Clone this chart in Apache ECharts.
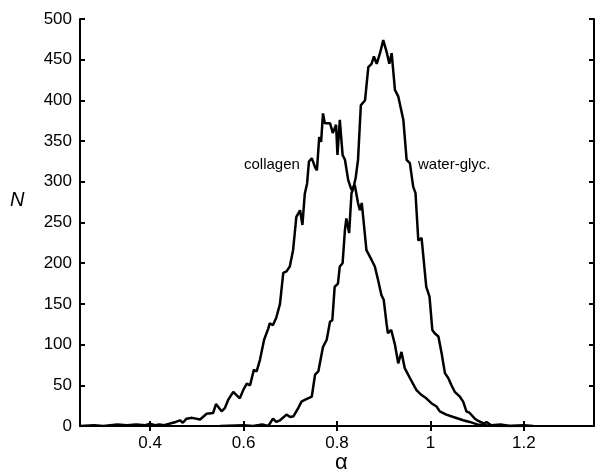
<!DOCTYPE html>
<html>
<head>
<meta charset="utf-8">
<script src="https://cdn.jsdelivr.net/npm/echarts@6/dist/echarts.min.js"></script>
<style>
  html, body { margin: 0; padding: 0; background: #fff; }
  #main { width: 595px; height: 476px; }
</style>
</head>
<body>
<div id="main"></div>
<script>
// tick positions
var xTicks = [0.4, 0.6, 0.8, 1.0, 1.2];

// collagen histogram (alpha, N)
var collagenAlpha = [0.25, 0.28, 0.30, 0.33, 0.35, 0.37, 0.39, 0.40, 0.41, 0.42, 0.43, 0.443, 0.455, 0.464, 0.47, 0.478, 0.49, 0.507, 0.521, 0.535, 0.541, 0.553, 0.56, 0.567, 0.578, 0.585, 0.592, 0.60, 0.607, 0.614, 0.622, 0.628, 0.635, 0.644, 0.653, 0.656, 0.663, 0.670, 0.678, 0.685, 0.692, 0.699, 0.706, 0.713, 0.721, 0.726, 0.731, 0.736, 0.740, 0.746, 0.753, 0.757, 0.762, 0.766, 0.770, 0.774, 0.778, 0.785, 0.791, 0.798, 0.801, 0.806, 0.812, 0.817, 0.824, 0.831, 0.838, 0.845, 0.849, 0.853, 0.863, 0.874, 0.881, 0.888, 0.895, 0.900, 0.906, 0.909, 0.916, 0.924, 0.931, 0.938, 0.945, 0.956, 0.970, 0.981, 0.991, 1.002, 1.013, 1.020, 1.034, 1.049, 1.07, 1.084, 1.10, 1.12, 1.15, 1.2];
var collagenN = [0, 1, 0, 2, 1, 2, 1, 3, 1, 2, 1, 3, 5, 7, 4, 9, 10, 8, 15, 16, 27, 18, 22, 32, 42, 38, 34, 45, 52, 50, 69, 67, 81, 106, 120, 126, 124, 133, 150, 188, 190, 196, 216, 257, 265, 247, 285, 298, 325, 329, 318, 314, 355, 349, 384, 372, 370, 372, 360, 370, 333, 376, 333, 327, 302, 290, 296, 274, 265, 274, 216, 204, 196, 179, 161, 155, 126, 114, 118, 100, 77, 91, 71, 59, 44, 38, 34, 28, 24, 18, 14, 11, 7, 5, 2, 1, 0, 0];

// water-glycerol histogram
var waterAlpha = [0.55, 0.60, 0.62, 0.64, 0.653, 0.663, 0.670, 0.678, 0.692, 0.70, 0.707, 0.717, 0.724, 0.731, 0.746, 0.753, 0.760, 0.770, 0.778, 0.785, 0.790, 0.795, 0.802, 0.806, 0.812, 0.817, 0.820, 0.826, 0.831, 0.835, 0.840, 0.845, 0.851, 0.860, 0.867, 0.874, 0.879, 0.885, 0.892, 0.899, 0.906, 0.912, 0.917, 0.924, 0.931, 0.942, 0.949, 0.956, 0.963, 0.968, 0.974, 0.981, 0.991, 0.998, 1.004, 1.009, 1.017, 1.024, 1.031, 1.038, 1.045, 1.052, 1.063, 1.070, 1.077, 1.084, 1.095, 1.10, 1.115, 1.12, 1.13, 1.15, 1.17, 1.2, 1.22];
var waterN = [0, 1, 0, 2, 0, 9, 5, 7, 14, 11, 12, 22, 30, 32, 36, 63, 67, 97, 106, 128, 130, 171, 175, 196, 200, 241, 255, 237, 286, 292, 305, 327, 394, 400, 441, 445, 454, 445, 458, 474, 460, 445, 458, 413, 405, 376, 327, 323, 294, 286, 228, 231, 171, 159, 118, 114, 110, 89, 65, 59, 50, 42, 36, 30, 18, 16, 9, 7, 3, 5, 1, 2, 0, 1, 0];

function pairs(xs, ys) {
    var out = [];
    for (var i = 0; i < xs.length; i++) {
        out.push([xs[i], ys[i]]);
    }
    return out;
}

var font = 'Liberation Sans, Arial, sans-serif';
var axisLine = { lineStyle: { color: '#000', width: 2 } };
var tick = { inside: true, length: 5, lineStyle: { color: '#000', width: 2 } };

var myChart = echarts.init(document.getElementById('main'));
var option = {
    animation: false,
    backgroundColor: '#fff',
    grid: { left: 80, right: 1, top: 19, bottom: 50, outerBoundsMode: 'none', containLabel: false },
    xAxis: [{
        type: 'value',
        min: 0.25,
        max: 1.35,
        axisLine: axisLine,
        axisTick: Object.assign({ customValues: xTicks }, tick),
        axisLabel: { customValues: xTicks, color: '#000', fontFamily: font, fontSize: 17, margin: 9 },
        splitLine: { show: false }
    }, {
        type: 'value',
        position: 'top',
        min: 0.25,
        max: 1.35,
        axisLine: axisLine,
        axisTick: Object.assign({ customValues: xTicks }, tick),
        axisLabel: { show: false },
        splitLine: { show: false }
    }],
    yAxis: [{
        type: 'value',
        min: 0,
        max: 500,
        interval: 50,
        axisLine: axisLine,
        axisTick: tick,
        axisLabel: { color: '#000', fontFamily: font, fontSize: 17, margin: 8 },
        splitLine: { show: false }
    }, {
        type: 'value',
        position: 'right',
        min: 0,
        max: 500,
        interval: 50,
        axisLine: axisLine,
        axisTick: tick,
        axisLabel: { show: false },
        splitLine: { show: false }
    }],
    series: [{
        name: 'collagen',
        type: 'line',
        data: pairs(collagenAlpha, collagenN),
        showSymbol: false,
        lineStyle: { color: '#000', width: 2.5 },
        z: 3
    }, {
        name: 'water-glyc.',
        type: 'line',
        data: pairs(waterAlpha, waterN),
        showSymbol: false,
        lineStyle: { color: '#000', width: 2.5 },
        z: 3
    }],
    graphic: [{
        type: 'text',
        left: 244,
        top: 157,
        style: { text: 'collagen', font: '15px ' + font, fill: '#000' }
    }, {
        type: 'text',
        left: 418,
        top: 157,
        style: { text: 'water-glyc.', font: '15px ' + font, fill: '#000' }
    }, {
        type: 'text',
        left: 10,
        top: 190,
        style: { text: 'N', font: 'italic 20px ' + font, fill: '#000' }
    }, {
        type: 'text',
        left: 335,
        top: 452,
        style: { text: 'α', font: '22px ' + font, fill: '#000' }
    }]
};
myChart.setOption(option);
</script>
</body>
</html>
